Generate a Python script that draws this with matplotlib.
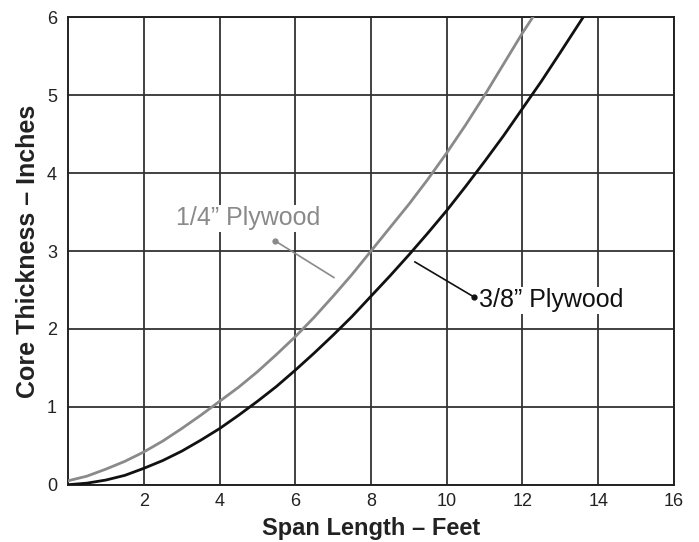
import matplotlib
matplotlib.use("Agg")
import matplotlib.pyplot as plt

# Values (span in feet, core thickness in inches)
span_quarter = [0, 0.5, 1, 1.5, 2, 2.5, 3, 3.5, 4, 4.5, 5, 5.5, 6, 6.5, 7, 7.5, 8,
                8.5, 9, 9.5, 10, 10.5, 11, 11.5, 12, 12.27]
core_quarter = [0.05, 0.11, 0.2, 0.3, 0.42, 0.56, 0.72, 0.89, 1.07, 1.25, 1.45, 1.67, 1.9,
                2.15, 2.42, 2.7, 3.0, 3.3, 3.6, 3.92, 4.26, 4.62, 5.0, 5.4, 5.8, 6.0]

span_three8 = [0, 0.5, 1, 1.5, 2, 2.5, 3, 3.5, 4, 4.5, 5, 5.5, 6, 6.5, 7, 7.5, 8,
               8.5, 9, 9.5, 10, 10.5, 11, 11.5, 12, 12.5, 13, 13.6]
core_three8 = [0.0, 0.02, 0.06, 0.12, 0.21, 0.31, 0.43, 0.57, 0.72, 0.89, 1.07, 1.26, 1.47,
               1.69, 1.92, 2.16, 2.42, 2.68, 2.95, 3.23, 3.52, 3.83, 4.15, 4.48, 4.83, 5.18,
               5.55, 6.0]

x_ticks = [2, 4, 6, 8, 10, 12, 14, 16]
y_ticks = [0, 1, 2, 3, 4, 5, 6]

GRAY = "#8a8a8a"
GRID = "#333333"
text_font = ["Liberation Sans", "DejaVu Sans"]

fig = plt.figure(figsize=(6.99, 5.42), dpi=100)
ax = fig.add_axes([0.0973, 0.1057, 0.8669, 0.8623])

ax.set_xlim(0, 16)
ax.set_ylim(0, 6)
ax.set_xticks(x_ticks)
ax.set_yticks(y_ticks)
ax.tick_params(length=0, labelsize=13, pad=6, labelcolor="#222222")
ax.tick_params(axis="y", pad=8)
for lbl in ax.get_xticklabels() + ax.get_yticklabels():
    lbl.set_fontfamily(text_font)
ax.grid(True, color=GRID, linewidth=1.3)
ax.set_axisbelow(True)
for s in ax.spines.values():
    s.set_color("#222222")
    s.set_linewidth(1.4)

ax.plot(span_quarter, core_quarter, color=GRAY, linewidth=2.0, zorder=3)
ax.plot(span_three8, core_three8, color="#111111", linewidth=2.0, zorder=3)

# leader lines with dots
ax.plot([5.47, 7.02], [3.13, 2.66], color=GRAY, linewidth=1.2, zorder=3)
ax.plot([5.47], [3.13], "o", color=GRAY, markersize=3.5, zorder=4)
ax.plot([9.16, 10.72], [2.86, 2.41], color="#111111", linewidth=1.2, zorder=3)
ax.plot([10.72], [2.41], "o", color="#111111", markersize=3.5, zorder=4)

ax.text(4.76, 3.42, "1/4\u201d Plywood", color=GRAY, fontsize=18, family=text_font,
        ha="center", va="center", zorder=2,
        bbox=dict(facecolor="white", edgecolor="none", pad=1))
ax.text(10.85, 2.37, "3/8\u201d Plywood", color="#111111", fontsize=18, family=text_font,
        ha="left", va="center", zorder=2,
        bbox=dict(facecolor="white", edgecolor="none", pad=1))

ax.set_xlabel("Span Length \u2013 Feet", fontsize=17, fontweight="bold", family=text_font,
              labelpad=5, color="#222222")
ax.set_ylabel("Core Thickness \u2013 Inches", fontsize=18, fontweight="bold", family=text_font,
              labelpad=5, color="#222222")

fig.savefig("out.png", dpi=100)
